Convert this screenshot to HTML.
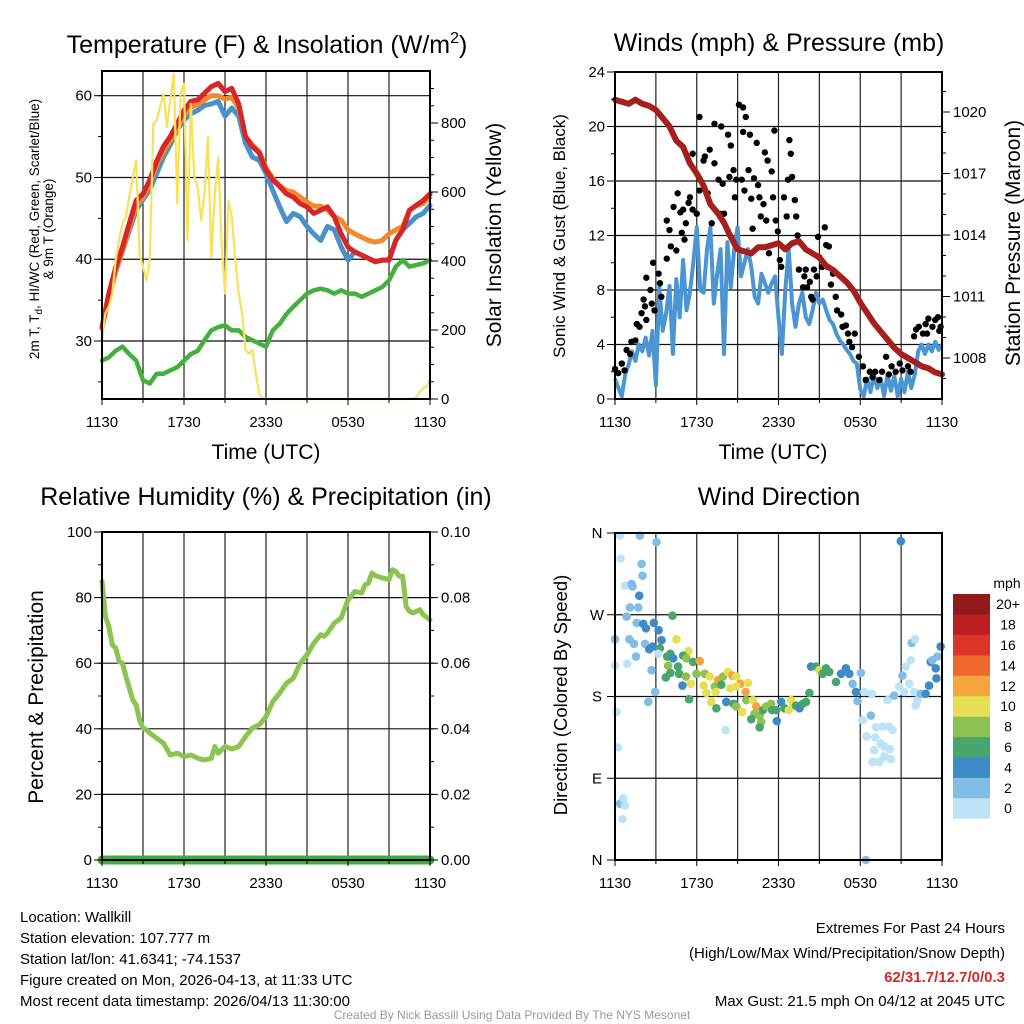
<!DOCTYPE html>
<html><head><meta charset="utf-8">
<style>
html,body{margin:0;padding:0;background:#fff;}
svg{display:block;font-family:"Liberation Sans",sans-serif;}
</style></head>
<body>
<svg id="c" width="1024" height="1024" viewBox="0 0 1024 1024" xmlns="http://www.w3.org/2000/svg">
<rect width="1024" height="1024" fill="#fff"/>
<g id="grid"></g>
<g id="series"></g>
<g id="frames"></g>
<!-- titles -->
<text x="267" y="53" font-size="25" text-anchor="middle">Temperature (F) &amp; Insolation (W/m<tspan dy="-10" font-size="16">2</tspan><tspan dy="10">)</tspan></text>
<text x="779" y="51" font-size="25" text-anchor="middle">Winds (mph) &amp; Pressure (mb)</text>
<text x="266" y="505" font-size="25" text-anchor="middle">Relative Humidity (%) &amp; Precipitation (in)</text>
<text x="779" y="505" font-size="25" text-anchor="middle">Wind Direction</text>
<!-- axis titles -->
<text x="266" y="459" font-size="21" text-anchor="middle">Time (UTC)</text>
<text x="773" y="459" font-size="21" text-anchor="middle">Time (UTC)</text>
<text transform="translate(39,229) rotate(-90)" font-size="13.5" text-anchor="middle">2m T, T<tspan dy="3" font-size="10">d</tspan><tspan dy="-3">, HI/WC (Red, Green, Scarlet/Blue)</tspan></text>
<text transform="translate(53,229) rotate(-90)" font-size="13.5" text-anchor="middle">&amp; 9m T (Orange)</text>
<text transform="translate(501,235) rotate(-90)" font-size="21" text-anchor="middle">Solar Insolation (Yellow)</text>
<text transform="translate(565,236) rotate(-90)" font-size="17" text-anchor="middle">Sonic Wind &amp; Gust (Blue, Black)</text>
<text transform="translate(1020,243) rotate(-90)" font-size="21" text-anchor="middle">Station Pressure (Maroon)</text>
<text transform="translate(43,697) rotate(-90)" font-size="21" text-anchor="middle">Percent &amp; Precipitation</text>
<text transform="translate(567,695) rotate(-90)" font-size="18.5" text-anchor="middle">Direction (Colored By Speed)</text>
<!-- colorbar -->
<g id="cbar"></g>
<text x="1007" y="588" font-size="14" text-anchor="middle">mph</text>
<!-- footer -->
<g font-size="15">
<text x="20" y="922">Location: Wallkill</text>
<text x="20" y="943">Station elevation: 107.777 m</text>
<text x="20" y="964">Station lat/lon: 41.6341; -74.1537</text>
<text x="20" y="985">Figure created on Mon, 2026-04-13, at 11:33 UTC</text>
<text x="20" y="1006">Most recent data timestamp: 2026/04/13 11:30:00</text>
</g>
<g font-size="15" text-anchor="end">
<text x="1005" y="933">Extremes For Past 24 Hours</text>
<text x="1005" y="958">(High/Low/Max Wind/Precipitation/Snow Depth)</text>
<text x="1005" y="982" fill="#d42a27" font-weight="bold">62/31.7/12.7/0/0.3</text>
<text x="1005" y="1006">Max Gust: 21.5 mph On 04/12 at 2045 UTC</text>
</g>
<text x="512" y="1019" font-size="12" fill="#999" text-anchor="middle">Created By Nick Bassill Using Data Provided By The NYS Mesonet</text>
</svg>
<script>
// ---------- data ----------
const timeTicks = [0,6,12,18,24];
const timeTickLabels = ["1130","1730","2330","0530","1130"];
// temperature series, every 0.5 h
const tempRed = [31.7,35.8,39,41.5,44.4,47.2,48,49.7,52,53.8,55,56.6,58.2,59.3,59.5,60.3,61.1,61.5,60.5,60.9,59,55,53.8,53,50.9,49.7,48.9,48,47.6,46.8,46.4,45.6,46,46.4,45.2,43.1,41.5,40.9,40.5,40.1,39.7,39.9,39.9,42.3,43.6,46,46.6,47.2,48];
const tempBlue = [31.7,35.5,38.5,41,43.5,46,47.3,48.5,50.5,52.5,54,55.8,57,57.8,58.2,58.8,59,59.3,57.5,58.5,57.5,54.2,52.5,52.1,50.5,48.4,46.4,44.6,45.6,45.2,44,43.1,42.3,44,43.6,41.5,39.9,40.9,40.5,40.1,39.7,39.9,39.9,42.3,43.6,44.4,45.2,45.6,46.6];
const tempOrange = [31.5,35.3,38.5,41,43.8,46.6,47.5,49.2,51.5,53.2,54.5,56,57.6,58.6,58.9,59.5,60,60,59.6,59.8,58.5,55,54,53.2,51.2,49.9,49,48.4,48.2,47.6,47,46.5,46.5,46,45.2,44.8,43.6,43.1,42.7,42.3,42.1,42.3,43.1,43.6,44,46,46.6,46.8,47.6];
const dewGreen = [27.6,28,28.8,29.3,28.4,27.6,25.2,24.8,26,26,26.4,26.8,27.6,28.4,28.8,30.1,31.3,31.7,31.9,31.3,31.3,30.5,30.1,29.7,29.3,31.3,32.1,33.3,34.2,35,35.8,36.2,36.4,36.2,35.8,36.2,35.8,35.8,35.4,35.8,36.2,36.6,37.4,39.1,39.9,39.1,39.3,39.5,39.9];
// solar insolation every 0.25 h
const solar = [171,248,267,306,402,460,509,528,586,644,692,422,383,344,402,798,808,846,885,788,866,943,566,885,914,460,856,644,615,518,595,759,412,595,701,451,306,576,528,402,306,248,142,132,142,74,16,2,
0,0,0,0,0,0,0,0,0,0,0,0,0,0,0,0,0,0,0,0,0,0,0,0,0,0,0,0,0,0,0,0,0,0,0,0,0,0,0,0,0,0,0,0,
5,21,31,36,55];
const tempTicks = [30,40,50,60];
const solarTicks = [0,200,400,600,800];
// winds every 0.25 h
const windSpeed = [1.5,0.8,0.2,1.8,2.5,3.5,2.8,4,3.5,4.5,3.2,5,1.0,8.2,5,6.3,8.3,3.3,8.8,6,10.2,6.5,7.8,10,12.6,8,7.8,11,12.6,7,9.2,11,3.3,11.5,8.2,11,12.6,9,10,11,9.7,7.5,7,9.2,8.5,7.8,8.5,9,6,3.3,8,11,7,5.3,7,7.8,6,5.5,6.5,7.8,7,7.3,6.5,5.8,5.5,4.8,4.3,4,3.6,3.3,2.8,2.6,0.7,0.2,1.5,0.5,1.8,0.8,1.5,0.2,1.8,0.6,1.7,0.2,1.5,0.5,2,0.8,1.8,3.5,4,3.3,4,3.5,4.2,3.6,4];
const gustTime = [0,0.24,0.5,0.7,0.85,1.1,1.2,1.5,1.6,1.8,1.95,2.1,2.2,2.3,2.3,2.6,2.7,2.8,2.9,3.2,3.3,3.4,3.8,3.8,4,4.1,4.3,4.5,4.6,4.8,4.9,5,5.1,5.2,5.4,5.5,5.7,5.7,6,6.2,6.2,6.5,6.6,6.8,6.95,7.1,7.3,7.3,7.6,7.7,7.8,7.9,8,8.3,8.4,8.5,8.7,8.8,8.9,9.1,9.3,9.4,9.4,9.5,9.6,9.8,9.9,10,10.1,10.2,10.4,10.5,10.6,10.7,10.9,11,11.1,11.2,11.3,11.5,11.6,11.7,11.8,11.95,12.1,12.2,12.4,12.6,12.7,12.8,12.9,13,13.2,13.3,13.4,13.5,13.8,13.9,14,14.1,14.3,14.4,14.5,14.6,14.8,14.9,15,15.2,15.4,15.5,15.6,15.7,15.85,16,16.2,16.3,16.6,16.7,16.95,17.1,17.2,17.4,17.6,17.9,18.2,18.4,18.7,18.9,19.1,19.4,19.6,19.9,20.1,20.3,20.6,20.9,21.1,21.5,21.7,21.95,22.1,22.3,22.6,22.8,22.9,23,23.3,23.5,23.7,23.8,23.9];
const gustSpeed = [2.2,1.9,2.6,2.1,3.6,3.3,4.2,4.3,5.5,5.3,6.3,7.3,6.8,5.8,8.9,8,7,10,6.5,9.2,8.5,7.5,10.3,13.1,12.4,11.2,14.1,10.9,15.1,13.7,12.2,13.9,11.7,12.9,14.4,14.8,13.9,18,13.6,20.7,15.3,17.5,17.8,15.1,18.3,12.9,17.3,20.2,16.1,13.6,20,15.8,13.6,19.4,16.3,18.6,16.8,14.8,16.1,21.6,16.1,19.6,21.4,15.3,20.7,16.8,19.4,14.7,12.5,16.2,18.8,15.7,14.8,13.4,14.3,18.1,13.1,17.5,10.7,16.7,14.8,19.7,13.1,12.3,10.2,9.7,14.8,13.4,16.1,19,18,16.3,14.6,13.4,12,9.5,8.2,9,9.5,8.2,8.6,7.5,7.3,9.5,9,11.9,10.4,9.7,12.6,11.3,9.7,11.2,8.4,9.2,7.5,6.5,6.2,5.3,5.4,4.8,4.2,3.8,4.8,3.1,2.4,1.4,2,1.6,2,1.4,2,3.1,1.8,2.4,2,2.6,2.1,2.4,2,4.6,5.1,5.3,4.8,5.5,4.8,5.9,5.3,5.8,6,5,5.3];
// pressure every 0.5 h
const pressure = [1020.6,1020.5,1020.4,1020.6,1020.4,1020.3,1020.1,1019.7,1019.3,1018.6,1018.3,1017.5,1017,1016.4,1015.5,1015.1,1014.6,1013.9,1013.3,1013.2,1013.1,1013.4,1013.4,1013.5,1013.6,1013.3,1013.6,1013.7,1013.3,1013.1,1012.9,1012.5,1012.3,1012,1011.7,1011.3,1010.7,1010.2,1009.7,1009.3,1008.9,1008.5,1008.2,1008,1007.8,1007.6,1007.5,1007.3,1007.2];
const windTicks = [0,4,8,12,16,20,24];
const pressTicks = [1008,1011,1014,1017,1020];
// humidity
const rhTime = [0,0.25,0.5,0.75,1,1.25,1.5,1.75,2,2.25,2.5,2.75,3,3.25,3.5,4,4.5,5,5.5,6,6.5,7,7.5,8,8.25,8.5,9,9.5,10,10.5,11,11.5,12,12.5,13,13.5,14,14.5,15,15.5,16,16.25,16.5,17,17.5,18,18.5,19,19.25,19.5,19.75,20,20.5,21,21.25,21.5,21.75,22,22.25,22.5,22.75,23,23.25,23.5,24];
const rhValue = [85,74.3,71.2,65.6,64.6,60.5,60,56,52.4,48.8,47.3,42.7,40.2,39.7,38.7,37.1,35.6,32,32.6,31.5,32,31,30.5,31,34.6,32.6,34.6,33.8,34.6,37.6,40.2,41.2,43.7,48.3,50.9,53.9,55.4,60,62.6,66.1,68.7,68.2,69.2,72.2,73.8,79.3,81.9,81.4,83.9,84.4,87.5,86.7,86,85.5,88.5,88,86.5,86.5,77.3,75.8,75.3,75.8,76.3,74.8,73.2];
const precipTime = [0,24];
const precipValue = [0,0];
const rhTicks = [0,20,40,60,80,100];
const precipTicks = ["0.00","0.02","0.04","0.06","0.08","0.10"];
// wind direction
const dirTime = [0.37,1.83,3.05,0.41,1.95,2.02,0.73,1.22,1.29,1.78,1.1,1.71,0.85,1.59,2.07,2.85,2.27,3.2,0,1.05,1.39,2.2,3.41,2.76,2.51,4.51,3.29,0,0.9,2.68,1.54,3.17,4.22,4.07,3.83,4.27,3.9,4.63,5.39,5,5.24,5.73,6.22,4.07,4.71,5.2,3.73,5.98,6.59,6.95,7.56,7.93,8.29,8.61,8.9,9.2,9.76,5.56,4.95,6.51,7.32,7.8,8.46,8.9,6.71,7.39,9.59,5.44,2.95,2.44,0.12,7.07,7.44,8.17,8.71,8.9,9.34,9.63,10.12,10.37,10.24,10.61,10,10.73,10.61,10.85,11.1,11.46,11.54,11.88,11.83,12.2,12.44,12.76,12.93,13.05,13.29,13.54,13.78,14.02,14.27,14.39,14.76,15,15.24,15.49,15.73,16.22,16.59,16.95,17.2,17.44,17.68,18.05,17.8,18.29,18.17,18.78,18.85,18.46,19.15,19.1,19.63,20.12,20.37,19.51,19.76,19.02,20.17,18.9,19.39,19.76,20.24,20,20.49,20.85,21.22,21.1,21.34,21.59,21.71,21.78,22.02,21.95,22.2,22.44,22.8,23.05,23.17,23.29,23.54,23.66,23.9,23.59,20.98,22.07,0.37,0.61,0.73,0.54,0.22,8.12,18.41];
const dirDeg = [357,357,350,332,326,313,302,304,301,291,278,278,268,261,260,261,255,253,243,243,238,238,242,235,232,243,233,214,216,209,224,227,269,227,224,222,214,213,230,225,222,218,219,206,205,202,201,205,205,202,198,202,207,203,202,194,195,194,192,192,191,193,189,191,184,185,185,177,185,174,163,174,167,174,172,169,163,176,176,169,161,159,155,152,146,165,169,172,165,153,165,174,167,165,176,169,170,167,172,174,184,213,213,209,205,211,207,196,205,211,205,194,185,206,175,185,154,159,183,136,146,135,147,147,143,128,125,121,122,108,108,114,111,176,181,191,185,203,213,194,220,239,243,185,176,183,183,192,218,220,211,224,235,200,351,170,62,68,60,45,124,143,0];
const dirSpeed = [1,3,3,1,3,3,1,3,3,5,3,3,3,3,5,5,5,5,3,3,3,3,5,5,5,11,7,1,1,3,3,1,7,7,7,5,9,7,11,7,9,7,13,7,7,9,7,9,9,11,13,9,11,13,11,13,11,11,5,11,9,7,11,11,11,11,13,7,3,3,1,11,7,5,7,9,11,9,11,13,9,9,7,9,7,7,9,9,7,5,7,5,7,11,11,11,7,5,7,7,7,5,7,11,7,7,7,7,5,5,5,3,5,3,3,1,1,3,1,1,1,1,1,1,1,1,1,1,1,1,1,1,1,1,3,1,1,3,1,1,1,3,1,1,1,3,5,5,5,3,5,3,5,5,5,1,3,1,1,1,1,1,3,1];
const dirTicks = [0,90,180,270,360];
const dirTickLabels = ["N","E","S","W","N"];
const cbarLabels = ["0","2","4","6","8","10","12","14","16","18","20+"];
const cbarColors = ["#bde3f6","#82bde6","#3e8bc7","#47a56d","#8cc251","#e6df55","#f6a43d","#ee6a2c","#dc3429","#bd1f25","#911a1c"];

// ---------- helpers ----------
const NS = "http://www.w3.org/2000/svg";
const G = document.getElementById("grid"), S = document.getElementById("series"), F = document.getElementById("frames");
function el(parent, tag, attrs){ const e=document.createElementNS(NS,tag); for(const k in attrs) e.setAttribute(k,attrs[k]); parent.appendChild(e); return e; }
function lin(d0,d1,r0,r1){ return v => r0 + (v-d0)*(r1-r0)/(d1-d0); }
function path(xs, ys, fx, fy){ let d=""; for(let i=0;i<xs.length;i++){ d += (i?"L":"M")+fx(xs[i]).toFixed(1)+","+fy(ys[i]).toFixed(1); } return d; }
function steps(n, step){ const a=[]; for(let i=0;i<n;i++) a.push(i*step); return a; }
function txt(parent, x, y, s, size, anchor){ const t=el(parent,"text",{x:x,y:y,"font-size":size,"text-anchor":anchor}); t.textContent=s; return t; }

function panelFrame(name, x0,x1,y0,y1, fx, hLines){
  for(let h=3; h<24; h+=3){
    const l = el(G,"line",{x1:fx(h),x2:fx(h),y1:y0,y2:y1,stroke:"#222","stroke-width":1.2});
    
    
  }
  hLines.forEach(y=>{
    const l = el(G,"line",{x1:x0,x2:x1,y1:y,y2:y,stroke:"#111","stroke-width":1.2});
    
    
  });
  const r = el(F,"rect",{x:x0,y:y0,width:x1-x0,height:y1-y0,fill:"none",stroke:"#000","stroke-width":2});
  
  
  timeTicks.forEach((h,i)=>{
    el(F,"line",{x1:fx(h),x2:fx(h),y1:y1,y2:y1+6,stroke:"#000","stroke-width":1});
    const t = txt(F, fx(h), y1+28, timeTickLabels[i], 15, "middle");
    
    
  });
  for(let h=3; h<24; h+=6) el(F,"line",{x1:fx(h),x2:fx(h),y1:y1,y2:y1+4,stroke:"#000","stroke-width":1});
}
function yTicksLeft(name, vals, labels, fy, x0, minorStep, vmin, vmax){
  vals.forEach((v,i)=>{
    el(F,"line",{x1:x0-8,x2:x0,y1:fy(v),y2:fy(v),stroke:"#000","stroke-width":1});
    const t = txt(F, x0-10, fy(v)+5, labels[i], 15, "end");
    
    
  });
  for(let v=vmin; v<=vmax+1e-9; v+=minorStep) el(F,"line",{x1:x0-4,x2:x0,y1:fy(v),y2:fy(v),stroke:"#000","stroke-width":1});
}
function yTicksRight(name, vals, labels, fy, x1, minorStep, vmin, vmax){
  vals.forEach((v,i)=>{
    el(F,"line",{x1:x1,x2:x1+8,y1:fy(v),y2:fy(v),stroke:"#000","stroke-width":1});
    const t = txt(F, x1+11, fy(v)+5, labels[i], 15, "start");
    
    
  });
  for(let v=vmin; v<=vmax+1e-9; v+=minorStep) el(F,"line",{x1:x1,x2:x1+4,y1:fy(v),y2:fy(v),stroke:"#000","stroke-width":1});
}

// ---------- panel 1: temperature ----------
(function(){
  const x0=102,x1=430,y0=71,y1=399;
  const fx=lin(0,24,x0,x1), fy=lin(30,60,341,95.7), fs=lin(0,800,399,123);
  panelFrame("temp", x0,x1,y0,y1, fx, tempTicks.map(fy));
  yTicksLeft("temp", tempTicks, tempTicks.map(String), fy, x0, 5, 25, 60);
  yTicksRight("solar", solarTicks, solarTicks.map(String), fs, x1, 50, 0, 900);
  const t05 = steps(49,0.5), t025 = steps(97,0.25);
  const specs = [["dewpoint-line",dewGreen,"#46b03f",4.5],["heat-index-line",tempBlue,"#4a90cd",5],["temp-9m-line",tempOrange,"#f08a2c",5],["temp-2m-line",tempRed,"#d6262a",5]];
  specs.forEach(s=>{
    const p = el(S,"path",{d:path(t05,s[1],fx,fy),fill:"none",stroke:s[2],"stroke-width":s[3],"stroke-linejoin":"round","stroke-linecap":"round"});
    
    
  });
  const ps = el(S,"path",{d:path(t025,solar,fx,fs),fill:"none",stroke:"#f9e25a","stroke-width":2.2,"stroke-linejoin":"round"});
  
  
})();

// ---------- panel 2: winds ----------
(function(){
  const x0=615,x1=942,y0=72,y1=399;
  const fx=lin(0,24,x0,x1), fy=lin(0,24,399,72), fp=lin(1008,1020,358,112);
  panelFrame("winds", x0,x1,y0,y1, fx, windTicks.slice(1,6).map(fy));
  yTicksLeft("winds", windTicks, windTicks.map(String), fy, x0, 2, 0, 24);
  yTicksRight("pressure", pressTicks, pressTicks.map(String), fp, x1, 1, 1007, 1021);
  const p = el(S,"path",{d:path(steps(97,0.25),windSpeed,fx,fy),fill:"none",stroke:"#4a95d2","stroke-width":4,"stroke-linejoin":"round"});
  
  
  gustTime.forEach((h,i)=>{
    const c = el(S,"circle",{cx:fx(h),cy:fy(gustSpeed[i]),r:3.2,fill:"#000"});
    
    
  });
  const pp = el(S,"path",{d:path(steps(49,0.5),pressure,fx,fp),fill:"none",stroke:"#a51f1f","stroke-width":6,"stroke-linejoin":"round","stroke-linecap":"round"});
  
  
})();

// ---------- panel 3: humidity ----------
(function(){
  const x0=102,x1=430,y0=532,y1=860;
  const fx=lin(0,24,x0,x1), fy=lin(0,100,860,532), fr=lin(0,0.1,860,532);
  panelFrame("humidity", x0,x1,y0,y1, fx, rhTicks.slice(1,5).map(fy));
  yTicksLeft("humidity", rhTicks, rhTicks.map(String), fy, x0, 10, 0, 100);
  yTicksRight("precip", precipTicks.map(Number), precipTicks, fr, x1, 0.01, 0, 0.1);
  const p = el(S,"path",{d:path(rhTime,rhValue,fx,fy),fill:"none",stroke:"#8cc451","stroke-width":5,"stroke-linejoin":"round","stroke-linecap":"round"});
  
  
  const q = el(S,"path",{d:path(precipTime,precipValue,fx,fr),fill:"none",stroke:"#3faa3f","stroke-width":9,"stroke-linecap":"round"});
  
  
})();

// ---------- panel 4: wind direction ----------
(function(){
  const x0=615,x1=942,y0=533,y1=860;
  const fx=lin(0,24,x0,x1), fy=lin(0,360,860,533);
  panelFrame("direction", x0,x1,y0,y1, fx, dirTicks.map(fy));
  dirTicks.forEach((v,i)=>{
    el(F,"line",{x1:x0-8,x2:x0,y1:fy(v),y2:fy(v),stroke:"#000","stroke-width":1});
    const t = txt(F, x0-18, fy(v)+5, dirTickLabels[i], 15, "middle");
    
    
  });
  dirTime.forEach((h,i)=>{
    const bin = Math.min(10, Math.floor(dirSpeed[i]/2));
    const c = el(S,"circle",{cx:fx(h),cy:fy(dirDeg[i]),r:4.3,fill:cbarColors[bin]});
    
    
  });
  const cb = document.getElementById("cbar");
  const top=594, bh=20.4;
  cbarColors.forEach((col,i)=>{
    const yy = top + (10-i)*bh;
    const r = el(cb,"rect",{x:953,y:yy,width:37,height:bh+0.3,fill:col});
    
    
    const t = txt(cb, 1008, yy+bh/2+5, cbarLabels[i], 14, "middle");
    
    
  });
})();
</script>
</body></html>
